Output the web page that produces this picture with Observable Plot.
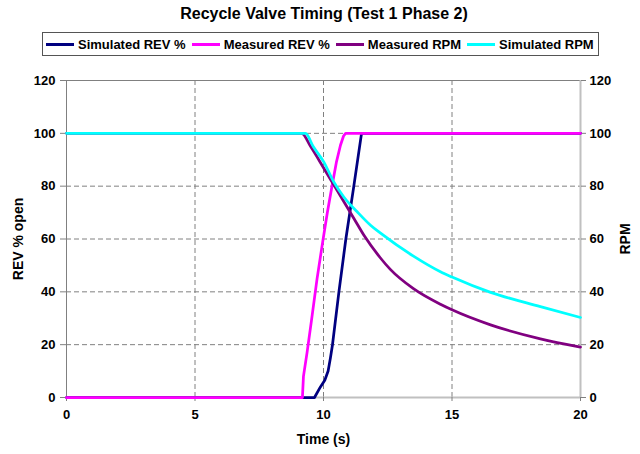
<!DOCTYPE html>
<html>
<head>
<meta charset="utf-8">
<script src="https://cdn.jsdelivr.net/npm/d3@7"></script>
<script src="https://cdn.jsdelivr.net/npm/@observablehq/plot@0.6"></script>
<style>
  body { margin: 0; background: #fff; font-family: 'Liberation Sans', Arial, sans-serif; }
  #wrap { width: 640px; height: 454px; position: relative; background: #fff; }
  #head { position: relative; width: 640px; height: 66px; }
  #title { position: absolute; left: 4px; top: 4px; width: 640px; text-align: center; font-size: 16px; font-weight: bold; line-height: 20px; }
  #legend { position: absolute; left: 42px; top: 32px; height: 22px; border: 1px solid #555; display: flex; align-items: center; padding: 0 4px 0 3px; font-size: 13px; font-weight: bold; white-space: nowrap; }
  .item { display: flex; align-items: center; margin-right: 6px; }
  .item:last-child { margin-right: 0; }
  .sw { width: 28px; height: 3px; margin-right: 4px; }
  svg { display: block; }
</style>
</head>
<body>
<div id="wrap">
  <div id="head">
    <div id="title"></div>
    <div id="legend"></div>
  </div>
  <div id="chart"></div>
</div>
<script>
const titleText = "Recycle Valve Timing (Test 1 Phase 2)";
const seriesNames = ["Simulated REV %", "Measured REV %", "Measured RPM", "Simulated RPM"];
const seriesColors = ["#000080", "#FF00FF", "#800080", "#00FFFF"];

const simRevT = [0, 9.65, 9.88, 10.05, 10.18, 10.27, 10.35, 10.6, 10.87, 11.18, 11.48, 20];
const simRevV = [0, 0, 4, 6.5, 10, 15, 20, 40, 60, 80, 100, 100];

const measRevT = [0, 9.18, 9.22, 9.36, 9.53, 9.75, 9.97, 10.15, 10.33, 10.5, 10.66, 10.78, 10.86, 20];
const measRevV = [0, 0, 8, 17, 29, 45, 59, 70, 80, 89, 95.5, 99, 100, 100];

const measRpmT = [0, 9.15, 9.5, 10.0, 10.4, 10.8, 11.2, 11.6, 12.2, 12.6, 13.5, 14.55, 15, 16.5, 18.44, 20];
const measRpmV = [100, 100, 95, 87, 80.5, 74, 67.5, 61, 53, 48.5, 41.2, 35.3, 33.2, 27.5, 22.2, 19.1];

const simRpmT = [0, 9.3, 9.6, 10.01, 10.4, 10.79, 11.31, 11.83, 12.22, 13.5, 14.55, 15, 16.5, 18.44, 20];
const simRpmV = [100, 100, 95, 89.2, 81.6, 75.9, 70.3, 65.2, 62.2, 53.5, 47.6, 45.6, 39.8, 34.4, 30.3];

const xTicks = [0, 5, 10, 15, 20];
const yTicks = [0, 20, 40, 60, 80, 100, 120];
const xGrid = [5, 10, 15];
const yGrid = [20, 40, 60, 80, 100];
const xLabel = "Time (s)";
const yLabelLeft = "REV % open";
const yLabelRight = "RPM";

document.getElementById("title").textContent = titleText;
const leg = document.getElementById("legend");
seriesNames.forEach((n, i) => {
  const it = document.createElement("div"); it.className = "item";
  const sw = document.createElement("div"); sw.className = "sw"; sw.style.background = seriesColors[i];
  const tx = document.createElement("span"); tx.textContent = n;
  it.appendChild(sw); it.appendChild(tx); leg.appendChild(it);
});

const seriesT = [simRevT, measRevT, measRpmT, simRpmT];
const seriesV = [simRevV, measRevV, measRpmV, simRpmV];
const seriesCurve = ["linear", "linear", "monotone-x", "monotone-x"];
const rows = seriesNames.map((n, i) => seriesT[i].map((t, j) => ({series: n, t, v: seriesV[i][j]})));

const dash = {stroke: "#808080", strokeOpacity: 1, strokeDasharray: "5,3", strokeWidth: 1};

const chart = Plot.plot({
  width: 640,
  height: 388,
  marginTop: 14,
  marginBottom: 57,
  marginLeft: 66,
  marginRight: 60,
  x: {domain: [0, 20]},
  y: {domain: [0, 120]},
  style: {fontFamily: "'Liberation Sans', Arial, sans-serif", fontSize: "13px", fontWeight: "bold", color: "#000", background: "#fff", overflow: "visible"},
  marks: [
    Plot.gridY(yGrid, dash),
    Plot.gridX(xGrid, dash),
    Plot.ruleY([120], {stroke: "#808080", strokeWidth: 1}),
    Plot.ruleX([0], {stroke: "#808080", strokeWidth: 1}),
    Plot.ruleX([20], {stroke: "#c0c0c0", strokeWidth: 2}),
    Plot.ruleY([0], {stroke: "#c0c0c0", strokeWidth: 2}),
    Plot.axisY({ticks: yTicks, anchor: "left", tickSize: 6, tickPadding: 5, label: null, stroke: "#808080"}),
    Plot.axisY({ticks: yTicks, anchor: "right", tickSize: 5, tickPadding: 4, label: null, stroke: "#808080"}),
    Plot.axisX({ticks: xTicks, anchor: "bottom", tickSize: 4, tickPadding: 8, label: null, stroke: "#808080"}),
    ...rows.map((r, i) => Plot.line(r, {x: "t", y: "v", stroke: seriesColors[i], strokeWidth: 2.75, curve: seriesCurve[i]})),
    Plot.text([yLabelLeft], {frameAnchor: "left", dx: -48, rotate: -90, textAnchor: "middle", fontSize: 14, fontWeight: "bold"}),
    Plot.text([yLabelRight], {frameAnchor: "right", dx: 45, rotate: -90, textAnchor: "middle", fontSize: 14, fontWeight: "bold"}),
    Plot.text([xLabel], {frameAnchor: "bottom", dy: 46, fontSize: 14, fontWeight: "bold"})
  ]
});
document.getElementById("chart").appendChild(chart);
</script>
</body>
</html>
